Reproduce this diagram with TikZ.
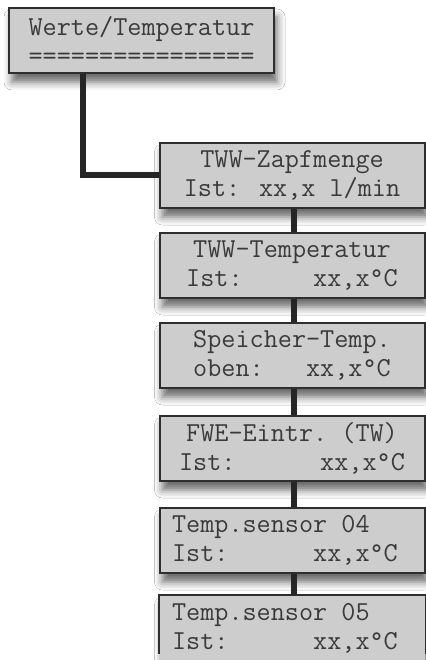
\documentclass[tikz,border=0pt]{standalone}
\usepackage{fontspec}
\usetikzlibrary{shadows.blur}
\definecolor{boxfill}{HTML}{CDCDCD}
\definecolor{boxborder}{HTML}{2E2E2E}
\definecolor{linecol}{HTML}{262626}
\definecolor{txt}{HTML}{3A3A3A}
\tikzset{
  menubox/.style={draw=boxborder, line width=2pt, fill=boxfill,
    minimum width=265pt, minimum height=65pt, inner sep=0pt, align=center,
    font=\ttfamily\fontsize{27.4pt}{29pt}\selectfont, text=txt,
    blur shadow={shadow xshift=3pt, shadow yshift=-9pt, shadow blur radius=8pt, shadow opacity=60}},
  boxedge/.style={draw=boxborder, line width=2pt},
  conn/.style={draw=linecol, line width=6pt},
  conn2/.style={draw=linecol, line width=5.5pt}
}
\begin{document}
\begin{tikzpicture}[x=1pt,y=-1pt]
\useasboundingbox (0,0) rectangle (425,660);
\fill[white] (0,0) rectangle (425,660);
\node[menubox, anchor=north west] (top) at (8,7) {Werte/Temperatur\\================};
\node[menubox, anchor=north west] (b1) at (158.5,142) {TWW-Zapfmenge\\Ist: xx,x l/min};
\node[menubox, anchor=north west] (b2) at (158.5,232) {TWW-Temperatur\\Ist:~~~~~xx,x°C};
\node[menubox, anchor=north west] (b3) at (158.5,322) {Speicher-Temp.\\oben:~~~xx,x°C};
\node[menubox, anchor=north west] (b4) at (158.5,415) {FWE-Eintr.~(TW)\\Ist:~~~~~~xx,x°C};
\node[menubox, anchor=north west] (b5) at (158.5,507) {Temp.sensor~04\hphantom{xxx}\\Ist:~~~~~~xx,x°C\hphantom{x}};
\node[menubox, draw=none, anchor=north west] (b6) at (158.5,595) {Temp.sensor~05\hphantom{xxx}\\Ist:~~~~~~xx,x°C\hphantom{x}};
\draw[boxedge] ([yshift=8pt]b6.south west) -- (b6.north west) -- (b6.north east) -- ([yshift=8pt]b6.south east);
\draw[conn] ([xshift=75pt]top.south west) |- (b1.west);
\draw[conn2] ([xshift=2pt]b1.south) -- ([xshift=2pt]b2.north);
\draw[conn2] ([xshift=2pt]b2.south) -- ([xshift=2pt]b3.north);
\draw[conn2] ([xshift=2pt]b3.south) -- ([xshift=2pt]b4.north);
\draw[conn2] ([xshift=2pt]b4.south) -- ([xshift=2pt]b5.north);
\draw[conn2] ([xshift=2pt]b5.south) -- ([xshift=2pt]b6.north);
\end{tikzpicture}
\end{document}
